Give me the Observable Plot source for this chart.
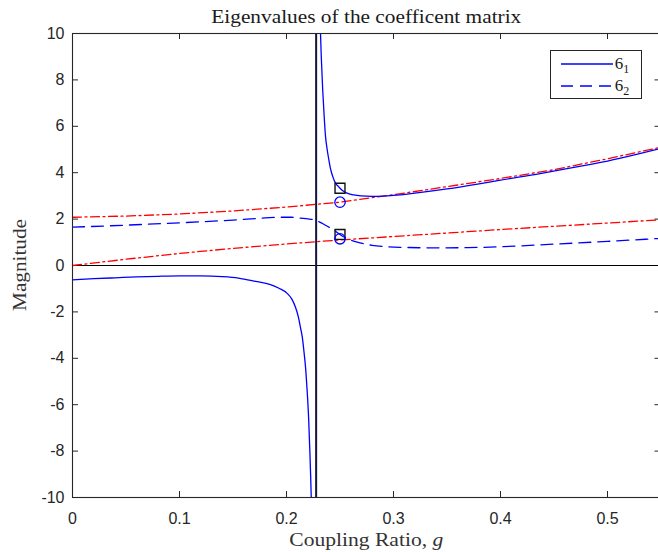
<!DOCTYPE html>
<html><head><meta charset="utf-8">
<script src="https://cdn.jsdelivr.net/npm/d3@7"></script>
<script src="https://cdn.jsdelivr.net/npm/@observablehq/plot@0.6"></script>
<style>
html,body{margin:0;padding:0;background:#fff;overflow:hidden;}
#chart{width:661px;}
#chart svg{display:block;max-width:none !important;width:661px;height:552px;}
</style></head><body><div id="chart"></div>
<script>
// ---- tick labels ----
const xTicks = [0, 0.1, 0.2, 0.3, 0.4, 0.5];
const yTicks = [-10, -8, -6, -4, -2, 0, 2, 4, 6, 8, 10];

// ---- texts ----
const titleText = "Eigenvalues of the coefficent matrix";
const xLabelText = "Coupling Ratio, ";
const xLabelVar = "g";
const yLabelText = "Magnitude";
const legendLabels = ["6", "6"];
const legendSubs = ["1", "2"];

// ---- eigenvalue 1 (solid), left branch of the pole ----
const gLeft = [0, 0.02, 0.04, 0.06, 0.08, 0.10, 0.12, 0.14, 0.155, 0.171, 0.185, 0.193, 0.2006, 0.205, 0.2084, 0.211, 0.213, 0.2148, 0.2162, 0.218, 0.2193, 0.2207, 0.2218, 0.2226, 0.2233];
const lambda1Left = [-0.62, -0.57, -0.53, -0.49, -0.465, -0.45, -0.45, -0.48, -0.54, -0.68, -0.82, -0.98, -1.2, -1.45, -1.8, -2.2, -2.66, -3.1, -3.66, -4.5, -5.4, -6.6, -7.97, -9.1, -10.3];

// ---- eigenvalue 1 (solid), right branch of the pole ----
const gRight = [0.2315, 0.2325, 0.2338, 0.235, 0.2364, 0.238, 0.2396, 0.241, 0.2435, 0.2458, 0.249, 0.252, 0.256, 0.263, 0.27, 0.28, 0.29, 0.30, 0.32, 0.35, 0.38, 0.40, 0.437, 0.47, 0.50, 0.53, 0.55];
const lambda1Right = [10.4, 9.0, 7.6, 6.6, 5.6, 5.0, 4.55, 4.2, 3.8, 3.55, 3.38, 3.24, 3.13, 3.04, 3.0, 2.98, 2.99, 3.02, 3.12, 3.3, 3.52, 3.68, 3.96, 4.24, 4.5, 4.82, 5.05];

// ---- eigenvalue 2 (dashed) ----
const g2 = [0, 0.05, 0.10, 0.15, 0.18, 0.194, 0.205, 0.213, 0.22, 0.2255, 0.23, 0.2349, 0.24, 0.244, 0.248, 0.252, 0.256, 0.262, 0.27, 0.28, 0.29, 0.31, 0.34, 0.37, 0.40, 0.42, 0.45, 0.50, 0.55];
const lambda2 = [1.65, 1.74, 1.84, 1.96, 2.05, 2.08, 2.08, 2.04, 2.01, 1.97, 1.89, 1.78, 1.64, 1.54, 1.40, 1.27, 1.17, 1.06, 0.96, 0.87, 0.82, 0.78, 0.76, 0.77, 0.81, 0.85, 0.92, 1.04, 1.17];

// ---- red dash-dot reference curves ----
const gRef = [0, 0.05, 0.10, 0.15, 0.20, 0.25, 0.30, 0.35, 0.40, 0.45, 0.50, 0.55];
const refUpper = [2.08, 2.13, 2.22, 2.35, 2.52, 2.73, 3.05, 3.40, 3.75, 4.13, 4.60, 5.10];
const refLower = [0, 0.27, 0.52, 0.74, 0.93, 1.10, 1.25, 1.40, 1.55, 1.69, 1.83, 1.97];

// ---- markers at g = 0.25 ----
const squareG = [0.25, 0.25];
const squareV = [3.33, 1.34];
const circleG = [0.25, 0.25];
const circleV = [2.73, 1.15];

// ---- pole location & zero line ----
const poleG = [0.2277];
const zeroV = [0];

const rows = (xs, ys, s) => xs.map((x, i) => ({x, y: ys[i], s}));
const solidData = [...rows(gLeft, lambda1Left, "L"), ...rows(gRight, lambda1Right, "R")];
const dashedData = rows(g2, lambda2, "D");
const refData = [...rows(gRef, refUpper, "U"), ...rows(gRef, refLower, "W")];
const squares = rows(squareG, squareV, "S");
const circles = rows(circleG, circleV, "C");

const W = 661, H = 552, mL = 72, mR = 0.5, mT = 33, mB = 55;
const fw = W - mL - mR, fh = H - mT - mB;
const tk = 6;
const axisColor = "#262626";
const BLUE = "#0000ff", RED = "#ff0000";

const plot = Plot.plot({
  width: W, height: H,
  marginLeft: mL, marginRight: mR, marginTop: mT, marginBottom: mB,
  style: {fontFamily: "'Liberation Sans', Arial, Helvetica, sans-serif", fontSize: "16px", color: axisColor, background: "#fff", maxWidth: "none"},
  x: {domain: [0, 0.55]},
  y: {domain: [-10, 10]},
  marks: [
    Plot.axisX(xTicks, {tickSize: 0, tickPadding: 15, tickFormat: d => String(d), label: null, fontSize: 16, fill: axisColor}),
    Plot.axisY(yTicks, {tickSize: 0, tickPadding: 8, tickFormat: d => String(d), label: null, fontSize: 16, fill: axisColor}),
    // inward ticks on all four sides
    Plot.ruleX(xTicks, {x: d => d, insetTop: fh - tk, stroke: axisColor, strokeWidth: 1}),
    Plot.ruleX(xTicks, {x: d => d, insetBottom: fh - tk, stroke: axisColor, strokeWidth: 1}),
    Plot.ruleY(yTicks, {y: d => d, insetRight: fw - tk, stroke: axisColor, strokeWidth: 1}),
    Plot.ruleY(yTicks, {y: d => d, insetLeft: fw - tk, stroke: axisColor, strokeWidth: 1}),
    // reference lines
    Plot.ruleY(zeroV, {y: d => d, stroke: "#000", strokeWidth: 1.2}),
    // red dash-dot
    Plot.line(refData, {x: "x", y: "y", z: "s", stroke: RED, strokeWidth: 1.3, strokeDasharray: "9,3.5,2,3.5", clip: true}),
    // blue curves
    Plot.line(dashedData, {x: "x", y: "y", z: "s", stroke: BLUE, strokeWidth: 1.3, strokeDasharray: "12,7", clip: true, curve: "monotone-x"}),
    Plot.line(solidData, {x: "x", y: "y", z: "s", stroke: BLUE, strokeWidth: 1.3, clip: true, curve: "monotone-x"}),
    Plot.ruleX(poleG, {x: d => d, stroke: "#14143c", strokeWidth: 2}),
    // markers
    Plot.dot(squares, {x: "x", y: "y", symbol: "square", r: 5.6, stroke: "#111", strokeWidth: 1.4, fill: "none"}),
    Plot.dot(circles, {x: "x", y: "y", r: 5.2, stroke: BLUE, strokeWidth: 1.3, fill: "none"}),
    Plot.frame({stroke: axisColor, strokeWidth: 1.1})
  ]
});

document.getElementById("chart").appendChild(plot);

// ---- titles, axis labels, legend ----
const svg = d3.select(plot);
const serif = "'Liberation Serif', 'DejaVu Serif', 'Times New Roman', serif";

svg.append("text")
  .attr("x", mL + fw / 2).attr("y", 23)
  .attr("text-anchor", "middle")
  .attr("font-family", serif).attr("font-size", 18).attr("fill", "#1a1a1a")
  .attr("textLength", 310).attr("lengthAdjust", "spacingAndGlyphs")
  .text(titleText);

const xl = svg.append("text")
  .attr("x", mL + fw / 2).attr("y", 546)
  .attr("text-anchor", "middle")
  .attr("font-family", serif).attr("font-size", 18).attr("fill", "#333")
  .attr("textLength", 154).attr("lengthAdjust", "spacingAndGlyphs");
xl.append("tspan").text(xLabelText);
xl.append("tspan").attr("font-style", "italic").text(xLabelVar);

svg.append("text")
  .attr("transform", `translate(26,${mT + fh / 2}) rotate(-90)`)
  .attr("text-anchor", "middle")
  .attr("font-family", serif).attr("font-size", 18).attr("fill", "#333")
  .attr("textLength", 92).attr("lengthAdjust", "spacingAndGlyphs")
  .text(yLabelText);

const lg = svg.append("g");
lg.append("rect").attr("x", 550.5).attr("y", 50.5).attr("width", 91).attr("height", 48)
  .attr("fill", "#fff").attr("stroke", axisColor).attr("stroke-width", 1);
const legendRows = [{y: 64, dash: null}, {y: 86, dash: "12,7"}];
legendRows.forEach((r, i) => {
  const ln = lg.append("line").attr("x1", 561).attr("x2", 613).attr("y1", r.y).attr("y2", r.y)
    .attr("stroke", BLUE).attr("stroke-width", 1.3);
  if (r.dash) ln.attr("stroke-dasharray", r.dash);
  const t = lg.append("text").attr("x", 622).attr("y", r.y + 5)
    .attr("font-family", serif).attr("font-size", 17).attr("fill", "#1a1a1a");
  t.append("tspan").text(legendLabels[i]);
  t.append("tspan").attr("font-size", 12).attr("dy", 4).text(legendSubs[i]);
});
</script>
</body></html>
